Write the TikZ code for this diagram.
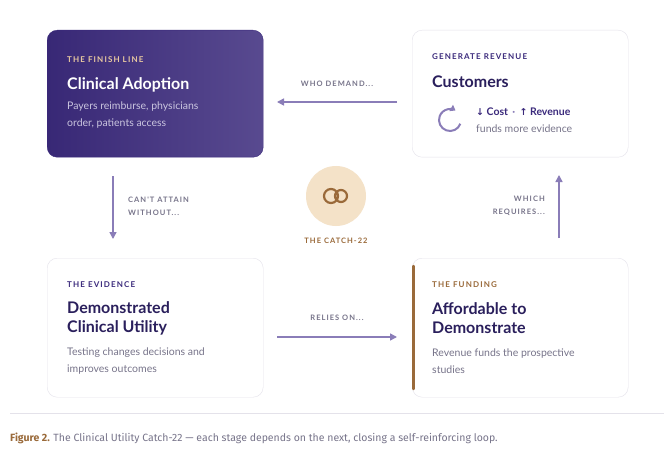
\documentclass[tikz,border=0pt]{standalone}
\usepackage{fontspec}
\setmainfont{Lato}
\newfontfamily\capsfont[LetterSpace=14]{Lato}
\newfontfamily\symfont{DejaVu Sans}
\newfontfamily\capfont{Fira Sans}
\usetikzlibrary{positioning,arrows.meta}
\definecolor{deep}{HTML}{3B2A7C}
\definecolor{ink}{HTML}{2A1F5C}
\definecolor{lav}{HTML}{8A7DB8}
\definecolor{peach}{HTML}{E9C9A0}
\definecolor{bronze}{HTML}{9A6A3A}
\definecolor{greytxt}{HTML}{77748A}
\definecolor{rim}{HTML}{E4E2EA}
\definecolor{cream}{HTML}{F4E2C8}
\tikzset{
  card/.style={rounded corners=10pt, minimum width=216pt, draw=rim, fill=white, inner sep=0pt},
  tag/.style={anchor=west, inner sep=0pt, font=\capsfont\bfseries\fontsize{8}{9}\selectfont},
  head/.style={anchor=west, inner sep=0pt, font=\bfseries\fontsize{16}{19}\selectfont, text=ink},
  body/.style={anchor=west, inner sep=0pt, font=\fontsize{10.5}{16.5}\selectfont, text=greytxt, align=left},
  link/.style={-{Triangle[length=7pt,width=7pt]}, lav, line width=1.5pt},
  note/.style={inner sep=0pt, text=greytxt, font=\capsfont\bfseries\fontsize{7.5}{13}\selectfont}
}
\begin{document}
\begin{tikzpicture}[x=1pt,y=-1pt]
  \useasboundingbox (0,0) rectangle (664,468);
  \fill[white] (0,0) rectangle (664,468);

  % cards
  \node[card, minimum height=127pt, left color=deep!95!black, right color=deep!85!white, draw=deep, anchor=north west] (adopt) at (47,30) {};
  \node[card, minimum height=127pt, anchor=north west] (cust) at (412,30) {};
  \node[card, minimum height=139pt, anchor=north west] (evid) at (47,258) {};
  \node[card, minimum height=139pt, anchor=north west] (fund) at (412,258) {};
  \draw[bronze, line width=2.5pt, line cap=round] (413.5,266) -- (413.5,389);

  % card texts
  \node[tag, text=peach] (adoptTag) at (67,60) {THE FINISH LINE};
  \node[head, text=white] (adoptHead) at (67,85) {Clinical Adoption};
  \node[body, text=lav!45!white] (adoptBody) at (67,115) {Payers reimburse, physicians\\order, patients access};

  \node[tag, text=deep] (custTag) at (432,57) {GENERATE REVENUE};
  \node[head] (custHead) at (432,82) {Customers};
  \node[inner sep=0pt, anchor=west, text=deep, font=\fontsize{10.5}{12}\selectfont\bfseries] (custGain) at (476,112)
    {{\symfont\fontsize{9.5}{12}\selectfont↓} Cost \,\textcolor{lav}{·}\, {\symfont\fontsize{9.5}{12}\selectfont↑} Revenue};
  \node[inner sep=0pt, anchor=west, text=greytxt, font=\fontsize{10.5}{12}\selectfont] (custNote) at (476,129) {funds more evidence};
  \coordinate (loop) at (450,120);
  \draw[lav, line width=2pt, -{Triangle[length=5pt,width=7pt]}] (loop) ++(20:11) arc[start angle=20, end angle=300, radius=11];

  \node[tag, text=deep] (evidTag) at (67,285) {THE EVIDENCE};
  \node[head, align=left, font=\bfseries\fontsize{16}{19}\selectfont] (evidHead) at (67,318) {Demonstrated\\Clinical Utility};
  \node[body] (evidBody) at (67,361) {Testing changes decisions and\\improves outcomes};

  \node[tag, text=bronze] (fundTag) at (432,285) {THE FUNDING};
  \node[head, align=left, font=\bfseries\fontsize{16}{19}\selectfont] (fundHead) at (432,318) {Affordable to\\Demonstrate};
  \node[body] (fundBody) at (432,361) {Revenue funds the prospective\\studies};

  % centre badge
  \node[circle, fill=cream, minimum size=60pt, inner sep=0pt] (catch) at (336,196) {};
  \draw[bronze, line width=2.2pt] (331,196) circle[radius=7] (341,196) circle[radius=6];
  \node[note, text=bronze, below=12pt of catch] (catchTag) {THE CATCH-22};

  % connectors
  \coordinate (wdA) at (397,102); \coordinate (wdB) at (277,102);
  \draw[link] (wdA) -- (wdB);
  \node[note] (wdTag) at (337,84) {WHO DEMAND...};
  \coordinate (caA) at (113,176); \coordinate (caB) at (113,239);
  \draw[link] (caA) -- (caB);
  \node[note, anchor=west, align=left] (caTag) at (128,206) {CAN'T ATTAIN\\WITHOUT...};
  \coordinate (roA) at (277,337); \coordinate (roB) at (397,337);
  \draw[link] (roA) -- (roB);
  \node[note] (roTag) at (337,318) {RELIES ON...};
  \coordinate (wrA) at (559,238); \coordinate (wrB) at (559,175);
  \draw[link] (wrA) -- (wrB);
  \node[note, anchor=east, align=right] (wrTag) at (545,206) {WHICH\\REQUIRES...};

  % caption
  \draw[rim, line width=0.8pt] (10,413) -- (664,413);
  \node[anchor=west, inner sep=0pt, text=greytxt, font=\capfont\fontsize{10.5}{12}\selectfont] (caption) at (10,438)
    {\textcolor{bronze}{\bfseries Figure 2.} The Clinical Utility Catch-22 — each stage depends on the next, closing a self-reinforcing loop.};
\end{tikzpicture}
\end{document}
